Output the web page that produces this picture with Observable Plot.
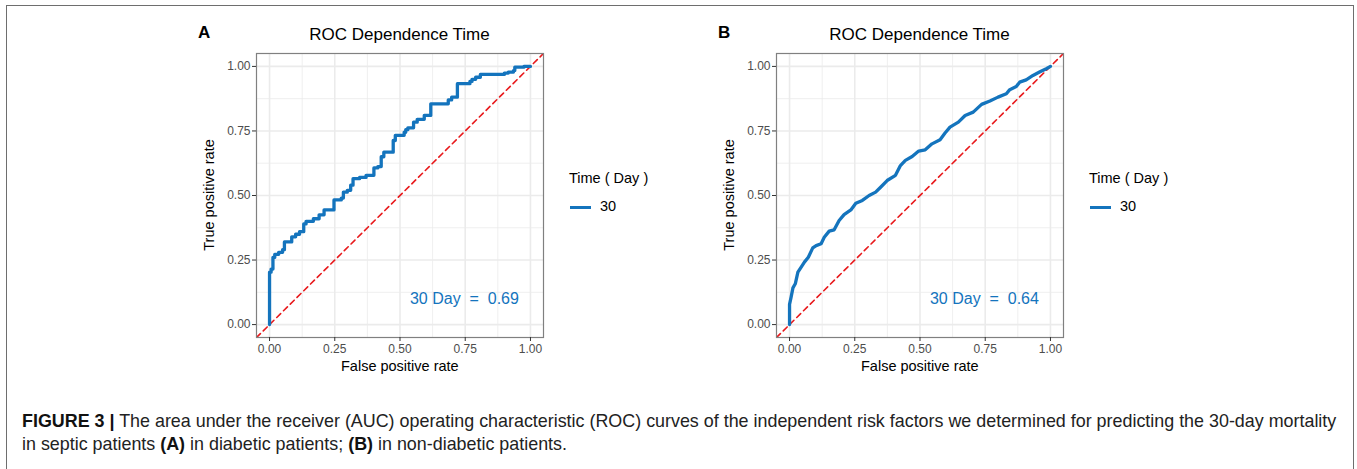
<!DOCTYPE html>
<html>
<head>
<meta charset="utf-8">
<script src="https://cdn.jsdelivr.net/npm/d3@7"></script>
<script src="https://cdn.jsdelivr.net/npm/@observablehq/plot@0.6"></script>
<style>
  html, body { margin: 0; padding: 0; background: #fff; }
  #root { position: relative; width: 1357px; height: 469px; overflow: hidden; font-family: "Liberation Sans", Arial, sans-serif; color: #000; }
  .frame { position: absolute; left: 6px; top: 5px; width: 1348px; height: 480px; border: 1.5px solid #6e6e6e; box-sizing: border-box; }
  .abs { position: absolute; white-space: pre; }
  .letter { font-weight: bold; font-size: 17px; }
  .title { font-size: 17px; transform: translateX(-50%); }
  .axt { font-size: 14.5px; }
  .ytitle { font-size: 14.5px; transform: translate(-50%, -50%) rotate(-90deg); }
  .legt { font-size: 14.5px; }
  .legk { position: absolute; height: 3px; width: 21px; }
  .caption { position: absolute; left: 22px; top: 410px; font-size: 17.9px; line-height: 22.5px; color: #222; white-space: pre; }
  .caption b { color: #111; }
</style>
</head>
<body>
<div id="root">
  <div class="frame"></div>
</div>
<script>
// ---- data ----
const panels = ["A", "B"];
const chartTitle = "ROC Dependence Time";
const xLabel = "False positive rate";
const yLabel = "True positive rate";
const legendTitle = "Time ( Day )";
const legendValue = "30";
const aucLabels = ["30 Day  =  0.69", "30 Day  =  0.64"];
const tickValues = [0, 0.25, 0.5, 0.75, 1];
const minorValues = [0.125, 0.375, 0.625, 0.875];

// Panel A: ROC (step) - false positive rate / true positive rate
const fprA = [0, 0, 0.006, 0.013, 0.02, 0.035, 0.05, 0.057, 0.085, 0.1, 0.115, 0.131, 0.14, 0.168, 0.19, 0.209, 0.247, 0.275, 0.283, 0.298, 0.311, 0.32, 0.345, 0.37, 0.4, 0.415, 0.428, 0.438, 0.474, 0.482, 0.516, 0.522, 0.53, 0.552, 0.566, 0.593, 0.618, 0.685, 0.698, 0.72, 0.768, 0.776, 0.79, 0.808, 0.9, 0.915, 0.935, 0.94, 0.975, 1];
const tprA = [0, 0.203, 0.215, 0.26, 0.272, 0.28, 0.29, 0.32, 0.34, 0.35, 0.36, 0.39, 0.4, 0.41, 0.425, 0.444, 0.483, 0.49, 0.513, 0.52, 0.54, 0.565, 0.57, 0.578, 0.607, 0.612, 0.65, 0.668, 0.713, 0.733, 0.745, 0.755, 0.762, 0.784, 0.795, 0.81, 0.855, 0.87, 0.881, 0.933, 0.942, 0.95, 0.958, 0.969, 0.974, 0.978, 0.984, 0.997, 1, 1];

// Panel B: ROC
const fprB = [0, 0, 0.006, 0.013, 0.022, 0.032, 0.044, 0.057, 0.072, 0.089, 0.102, 0.121, 0.133, 0.152, 0.171, 0.19, 0.209, 0.235, 0.254, 0.279, 0.305, 0.33, 0.349, 0.374, 0.406, 0.425, 0.444, 0.47, 0.495, 0.52, 0.546, 0.577, 0.596, 0.615, 0.647, 0.673, 0.704, 0.736, 0.768, 0.799, 0.831, 0.844, 0.869, 0.882, 0.907, 0.933, 0.958, 0.984, 1];
const tprB = [0, 0.078, 0.106, 0.142, 0.158, 0.203, 0.222, 0.242, 0.261, 0.297, 0.306, 0.313, 0.338, 0.362, 0.367, 0.403, 0.426, 0.444, 0.47, 0.481, 0.5, 0.513, 0.532, 0.558, 0.578, 0.616, 0.636, 0.651, 0.672, 0.677, 0.7, 0.716, 0.742, 0.765, 0.784, 0.81, 0.823, 0.853, 0.866, 0.881, 0.894, 0.91, 0.922, 0.939, 0.948, 0.965, 0.978, 0.991, 1];

const fprs = [fprA, fprB];
const tprs = [tprA, tprB];
const curves = ["step-after", "linear"];

// ---- style ----
const blue = "#1474bd";
const red = "#e8191c";
const gridCol = "#ebebeb";
const root = document.getElementById("root");

function add(cls, text, left, top, extra) {
  const d = document.createElement("div");
  d.className = "abs " + cls;
  d.textContent = text;
  d.style.left = left + "px";
  d.style.top = top + "px";
  if (extra) Object.assign(d.style, extra);
  root.appendChild(d);
  return d;
}

panels.forEach((p, i) => {
  const off = i * 520;
  const data = fprs[i].map((x, j) => ({x, y: tprs[i][j]}));
  const chart = Plot.plot({
    width: 363, height: 337,
    marginLeft: 66, marginRight: 10, marginTop: 8, marginBottom: 45,
    style: {fontFamily: "'Liberation Sans', Arial, sans-serif", fontSize: "12px", color: "#4d4d4d", background: "transparent"},
    x: {domain: [-0.05, 1.05], label: null},
    y: {domain: [-0.05, 1.05], label: null},
    marks: [
      Plot.gridX(minorValues, {stroke: gridCol, strokeOpacity: 1, strokeWidth: 0.8}),
      Plot.gridY(minorValues, {stroke: gridCol, strokeOpacity: 1, strokeWidth: 0.8}),
      Plot.gridX(tickValues, {stroke: gridCol, strokeOpacity: 1, strokeWidth: 1.6}),
      Plot.gridY(tickValues, {stroke: gridCol, strokeOpacity: 1, strokeWidth: 1.6}),
      Plot.line([{x: -0.05, y: -0.05}, {x: 1.05, y: 1.05}], {x: "x", y: "y", stroke: red, strokeWidth: 1.6, strokeDasharray: "5.5,4", clip: true}),
      Plot.line(data, {x: "x", y: "y", stroke: blue, strokeWidth: 3.3, curve: curves[i], strokeLinejoin: "round"}),
      Plot.text([aucLabels[i]], {x: () => 0.747, y: () => 0.1, text: d => d, fill: blue, fontSize: 16, style: "white-space: pre"}),
      Plot.frame({stroke: "#808080", strokeWidth: 1.2}),
      Plot.axisX(tickValues, {tickFormat: d3.format(".2f"), tickSize: 4, tickPadding: 3, label: null, stroke: "#333", fill: "#4d4d4d", fontSize: 12}),
      Plot.axisY(tickValues, {tickFormat: d3.format(".2f"), tickSize: 4, tickPadding: 2, label: null, stroke: "#333", fill: "#4d4d4d", fontSize: 12})
    ]
  });
  chart.style.position = "absolute";
  chart.style.left = (190 + off) + "px";
  chart.style.top = "45px";
  root.appendChild(chart);

  // texts
  add("letter", p, 198 + off, 23);
  add("title", chartTitle, 399.5 + off, 25);
  add("axt", xLabel, 341 + off, 358);
  add("ytitle", yLabel, 208.5 + off, 195);
  add("legt", legendTitle, 569 + off, 170);
  const k = document.createElement("div");
  k.className = "legk";
  k.style.left = (570 + off) + "px";
  k.style.top = "205.5px";
  k.style.background = blue;
  root.appendChild(k);
  add("legt", legendValue, 600 + off, 198);
});

const cap = document.createElement("div");
cap.className = "caption";
cap.innerHTML = "<b>FIGURE 3 |</b> The area under the receiver (AUC) operating characteristic (ROC) curves of the independent risk factors we determined for predicting the 30-day mortality\nin septic patients <b>(A)</b> in diabetic patients; <b>(B)</b> in non-diabetic patients.";
root.appendChild(cap);
</script>
</body>
</html>
